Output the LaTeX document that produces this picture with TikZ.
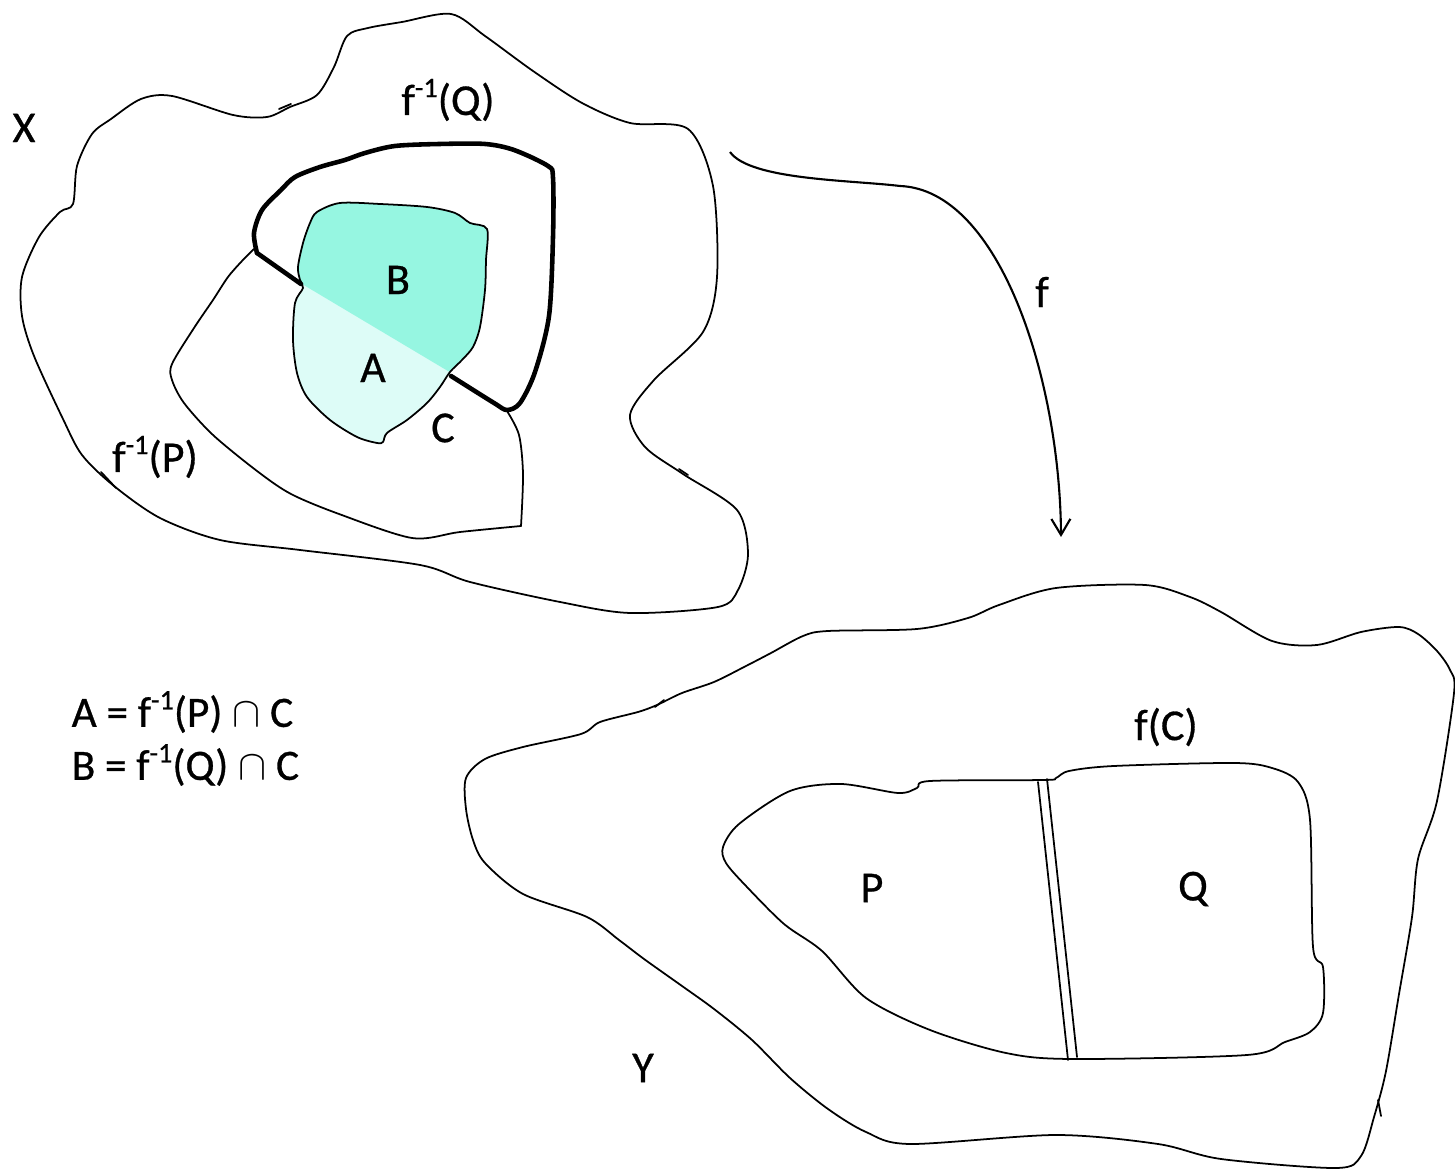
\documentclass[tikz,border=0pt]{standalone}
\usepackage{fontspec}
\setmainfont{Carlito}[FakeBold=0.7]
\usepackage{tikz}
\usetikzlibrary{arrows.meta}
\definecolor{setA}{RGB}{221,252,247}
\definecolor{setB}{RGB}{150,246,225}
\newcommand\supinv{\raisebox{0.85ex}{\fontsize{8}{9}\selectfont -1}}
\tikzset{
  outline/.style = {line width=0.5pt, line join=round, line cap=round},
  boundary/.style = {line width=1.3pt, line join=round, line cap=round},
  maparrow/.style = {line width=0.6pt, -{Straight Barb[length=1.6mm, width=1.9mm]}},
  lbl/.style = {font=\fontsize{12.5}{15}\selectfont, inner sep=0pt},
  formula/.style = {font=\fontsize{12.3}{15}\selectfont, inner sep=0pt, anchor=west},
}
\def\regionC{plot[smooth cycle] coordinates {(317,212) (340,203) (380,204) (427,207)
  (455,213) (470,223) (487,229) (486,260) (485,290) (480,327) (473,347) (462,360)
  (450,372) (440,387) (427,403) (407,420) (387,433) (383,442) (377,443) (357,437)
  (330,420) (307,397) (297,373) (293,340) (295,303) (303,288) (300,280) (298,267)
  (303,243) (310,223)}}

\begin{document}
\begin{tikzpicture}[x=0.01cm, y=-0.01cm]
  \useasboundingbox (0,0) rectangle (1455,1174);

  % space X
  \draw[outline] plot[smooth cycle] coordinates {(141,99) (172,96) (233,115) (267,117)
    (290,107) (317,95) (334,67) (347,36) (368,28) (402,22) (451,14) (485,36) (533,71)
    (582,103) (630,123) (688,129) (713,186) (717,277) (703,332) (654,380) (630,415)
    (645,447) (683,474) (737,510) (748,554) (738,590) (718,607) (630,613) (560,602)
    (470,582) (420,565) (300,550) (220,540) (160,518) (114,486) (82,455) (63,419)
    (34,356) (22,316) (22,277) (39,237) (60,212) (73,204) (77,166) (92,134) (111,119)};
  \draw[outline] (279,109) -- (291,104);
  \draw[outline] (101,472) -- (116,488);
  \draw[outline] (679,469) -- (688,475);

  % the set C, split into A and B
  \fill[setA] \regionC;
  \begin{scope}
    \clip (250,253) -- (520,414) -- (600,100) -- (250,100) -- cycle;
    \fill[setB] \regionC;
  \end{scope}
  \draw[outline] \regionC;

  % preimage of P
  \draw[outline] plot[smooth] coordinates {(254,249) (242,261) (228,277) (213,300)
    (194,328) (172,364) (172,380) (184,403) (213,435) (257,471) (291,494) (339,514)
    (412,538) (460,532) (521,526)};
  \draw[outline] plot[smooth] coordinates {(521,526) (523,474) (519,435) (507,411)};

  % preimage of Q
  \draw[boundary] (301,284) -- (257,253);
  \draw[boundary] plot[smooth] coordinates {(257,253) (254,233) (262,210) (281,190)
    (295,177) (320,167) (345,160) (365,153) (395,146) (440,144) (485,144) (514,150)
    (548,166) (553,178) (553,237) (549,316) (535,372) (520,403) (507,410) (494,403)
    (451,376)};

  % space Y
  \draw[outline] plot[smooth cycle] coordinates {(466,778) (485,759) (523,747) (581,734)
    (600,722) (638,712) (657,705) (682,693) (714,682) (746,666) (771,653) (803,636)
    (828,631) (917,629) (968,618) (999,605) (1056,588) (1145,585) (1190,597) (1221,612)
    (1272,641) (1317,645) (1361,632) (1399,627) (1418,634) (1437,651) (1450,670)
    (1454,693) (1437,801) (1418,859) (1412,917) (1399,994) (1386,1071) (1374,1117)
    (1361,1156) (1336,1168) (1221,1159) (1158,1144) (1056,1135) (910,1144) (866,1132)
    (828,1109) (790,1078) (752,1040) (714,1009) (682,986) (644,959) (619,940) (587,917)
    (523,894) (485,863) (473,840) (466,809)};
  \draw[outline] (655,707) -- (664,700);
  \draw[outline] (1378,1100) -- (1381,1116);

  % image f(C) with P and Q
  \draw[outline] plot[smooth cycle] coordinates {(723,847) (739,824) (790,791) (841,784)
    (898,793) (917,788) (930,781) (1044,780) (1056,778) (1069,771) (1114,766) (1234,763)
    (1272,768) (1298,782) (1310,820) (1313,947) (1323,967) (1323,1013) (1310,1032)
    (1285,1042) (1247,1055) (1072,1059) (1006,1053) (930,1030) (866,998) (822,951)
    (784,924) (746,886) (726,863)};
  \draw[outline] (1038,782) -- (1068,1060);
  \draw[outline] (1047,779) -- (1077,1057);

  % the map f
  \coordinate (fstart) at (730,152);
  \coordinate (fmid) at (900,186);
  \coordinate (fend) at (1061,537);
  \draw[maparrow] (fstart) .. controls (750,180) and (850,180) .. (fmid)
    .. controls (1000,190) and (1060,380) .. (fend);

  % labels
  \node[lbl] (labX) at (24,128) {X};
  \node[lbl] (labQinv) at (448,100) {f\supinv(Q)};
  \node[lbl] (labPinv) at (155,457) {f\supinv(P)};
  \node[lbl] (labB) at (398,280) {B};
  \node[lbl] (labA) at (373,368) {A};
  \node[lbl] (labC) at (443,428) {C};
  \node[lbl] (labf) at (1042,292) {f};
  \node[lbl] (labfC) at (1166,727) {f(C)};
  \node[lbl] (labP) at (872,888) {P};
  \node[lbl] (labQ) at (1193,889) {Q};
  \node[lbl] (labY) at (643,1068) {Y};
  \node[formula] (eqA) at (71,712) {A = f\supinv(P) $\cap$ C};
  \node[formula] (eqB) at (71,765) {B = f\supinv(Q) $\cap$ C};
\end{tikzpicture}
\end{document}
